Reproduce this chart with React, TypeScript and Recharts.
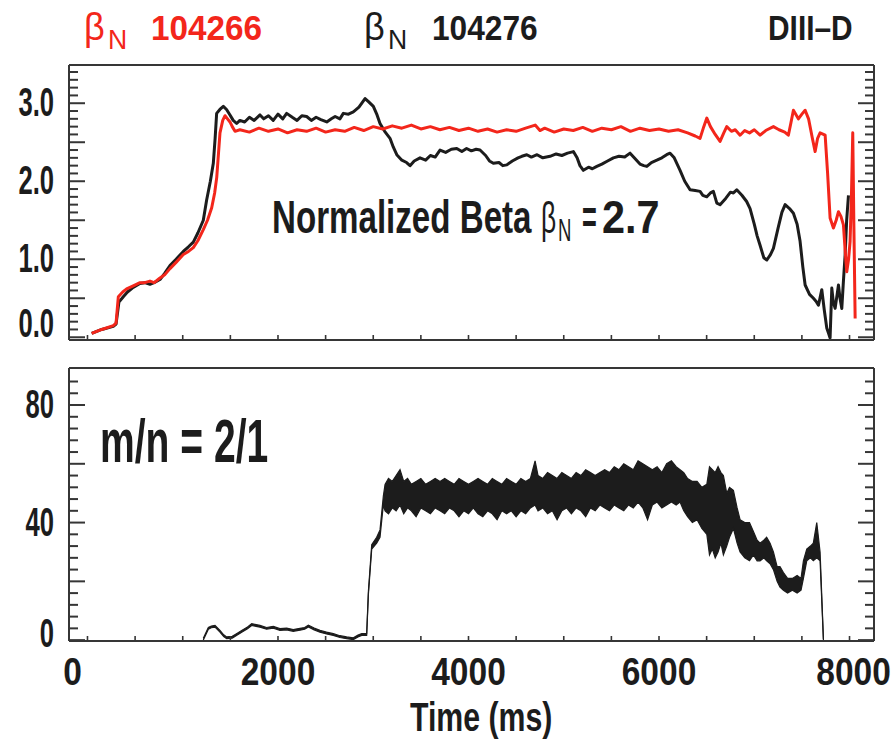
import React from 'react';
import { ComposedChart, Line, Area, XAxis, YAxis } from 'recharts';

// ---------- data ----------
// Normalized beta, shot 104266 (red): [time ms, betaN]
const beta104266: [number, number][] = [
  [44, 0.05], [150, 0.1], [271, 0.15], [300, 0.18], [324, 0.52], [370, 0.58], [411, 0.62], [480, 0.66],
  [551, 0.7], [600, 0.7], [656, 0.72], [700, 0.7], [761, 0.76], [810, 0.8], [866, 0.88], [930, 0.96],
  [1006, 1.06], [1060, 1.1], [1111, 1.15], [1160, 1.24], [1216, 1.38], [1260, 1.5], [1304, 1.66],
  [1335, 1.85], [1357, 2.05], [1375, 2.35], [1391, 2.62], [1420, 2.78], [1444, 2.84], [1470, 2.8],
  [1496, 2.76], [1520, 2.7], [1549, 2.64], [1600, 2.66], [1700, 2.63], [1800, 2.68], [1900, 2.64],
  [2000, 2.67], [2100, 2.62], [2200, 2.66], [2300, 2.64], [2400, 2.68], [2500, 2.63], [2600, 2.66],
  [2700, 2.64], [2800, 2.69], [2900, 2.65], [3000, 2.7], [3100, 2.67], [3200, 2.71], [3300, 2.68],
  [3400, 2.72], [3500, 2.67], [3600, 2.7], [3700, 2.66], [3800, 2.69], [3900, 2.65], [4000, 2.68],
  [4100, 2.64], [4200, 2.67], [4300, 2.63], [4400, 2.66], [4500, 2.64], [4600, 2.68], [4700, 2.72],
  [4750, 2.65], [4800, 2.68], [4900, 2.63], [5000, 2.67], [5100, 2.65], [5200, 2.69], [5300, 2.64],
  [5400, 2.68], [5500, 2.66], [5600, 2.7], [5700, 2.64], [5800, 2.68], [5900, 2.65], [6000, 2.67],
  [6100, 2.64], [6200, 2.66], [6300, 2.62], [6380, 2.58], [6431, 2.55], [6470, 2.7], [6502, 2.81],
  [6540, 2.7], [6590, 2.6], [6641, 2.51], [6680, 2.62], [6711, 2.7], [6760, 2.64], [6800, 2.66],
  [6851, 2.59], [6900, 2.65], [6950, 2.62], [7000, 2.66], [7061, 2.59], [7120, 2.65], [7201, 2.7],
  [7260, 2.66], [7320, 2.63], [7358, 2.59], [7385, 2.75], [7411, 2.91], [7440, 2.85], [7463, 2.8],
  [7500, 2.86], [7534, 2.91], [7570, 2.8], [7610, 2.55], [7639, 2.38], [7665, 2.55], [7691, 2.62],
  [7744, 2.59], [7770, 2.1], [7796, 1.53], [7831, 1.4], [7860, 1.5], [7884, 1.61], [7910, 1.55],
  [7936, 1.44], [7955, 1.1], [7971, 0.84], [7990, 1.0], [8006, 1.23], [8020, 1.8], [8034, 2.62],
  [8045, 1.5], [8059, 0.24],
];

// Normalized beta, shot 104276 (black): [time ms, betaN]
const beta104276: [number, number][] = [
  [44, 0.05], [150, 0.1], [271, 0.14], [300, 0.17], [330, 0.45], [376, 0.52], [420, 0.58], [480, 0.64],
  [551, 0.69], [600, 0.7], [656, 0.68], [700, 0.7], [761, 0.74], [810, 0.82], [866, 0.92], [930, 1.0],
  [1006, 1.1], [1060, 1.16], [1111, 1.22], [1160, 1.34], [1216, 1.5], [1251, 1.76], [1290, 2.0],
  [1321, 2.23], [1340, 2.55], [1356, 2.87], [1390, 2.92], [1426, 2.96], [1460, 2.92], [1496, 2.85],
  [1530, 2.78], [1566, 2.74], [1600, 2.78], [1650, 2.76], [1700, 2.82], [1750, 2.78], [1811, 2.85],
  [1850, 2.8], [1900, 2.84], [1950, 2.78], [2000, 2.86], [2050, 2.8], [2091, 2.87], [2150, 2.82],
  [2200, 2.78], [2250, 2.84], [2301, 2.83], [2350, 2.78], [2400, 2.82], [2450, 2.79], [2512, 2.76],
  [2560, 2.8], [2600, 2.83], [2650, 2.8], [2686, 2.87], [2740, 2.86], [2791, 2.89], [2850, 2.95],
  [2914, 3.06], [2950, 3.02], [3001, 2.96], [3040, 2.85], [3071, 2.74], [3120, 2.64], [3176, 2.55],
  [3210, 2.44], [3247, 2.34], [3300, 2.27], [3350, 2.24], [3386, 2.2], [3430, 2.26], [3491, 2.3],
  [3550, 2.27], [3600, 2.33], [3650, 2.31], [3701, 2.4], [3760, 2.37], [3820, 2.41], [3877, 2.42],
  [3930, 2.38], [3980, 2.42], [4030, 2.39], [4080, 2.41], [4121, 2.4], [4180, 2.33], [4220, 2.26],
  [4261, 2.23], [4320, 2.24], [4360, 2.2], [4402, 2.21], [4460, 2.26], [4520, 2.3], [4560, 2.32],
  [4612, 2.34], [4660, 2.31], [4720, 2.34], [4780, 2.3], [4856, 2.32], [4920, 2.35], [4980, 2.33],
  [5040, 2.36], [5101, 2.38], [5140, 2.3], [5170, 2.2], [5206, 2.14], [5260, 2.18], [5300, 2.16],
  [5347, 2.19], [5400, 2.22], [5460, 2.26], [5521, 2.3], [5580, 2.32], [5640, 2.31], [5696, 2.36],
  [5740, 2.3], [5800, 2.22], [5840, 2.2], [5872, 2.19], [5920, 2.24], [5977, 2.27], [6030, 2.3],
  [6080, 2.34], [6116, 2.36], [6160, 2.3], [6221, 2.14], [6270, 2.0], [6326, 1.89], [6380, 1.88],
  [6431, 1.87], [6460, 1.82], [6502, 1.8], [6540, 1.85], [6571, 1.87], [6607, 1.72], [6641, 1.7],
  [6700, 1.78], [6750, 1.86], [6781, 1.85], [6816, 1.89], [6870, 1.82], [6920, 1.74], [6956, 1.65],
  [7000, 1.45], [7030, 1.3], [7061, 1.18], [7100, 1.02], [7132, 0.99], [7170, 1.06], [7201, 1.14],
  [7250, 1.4], [7290, 1.6], [7324, 1.7], [7370, 1.65], [7411, 1.59], [7450, 1.45], [7481, 1.23],
  [7510, 0.9], [7534, 0.67], [7580, 0.55], [7621, 0.5], [7650, 0.46], [7674, 0.41], [7709, 0.61],
  [7735, 0.35], [7761, 0.12], [7780, 0.05], [7796, -0.01], [7814, 0.63], [7830, 0.45], [7849, 0.37],
  [7870, 0.55], [7884, 0.67], [7900, 0.5], [7919, 0.37], [7935, 0.7], [7954, 1.06], [7970, 1.5],
  [7989, 1.82],
];

// m/n = 2/1 mode amplitude envelope: [time ms, low, high]
const mode21: [number, number, number][] = [
  [1216, 0, 0.6], [1269, 3.7, 4.3], [1300, 4.2, 4.8], [1339, 4.4, 5.0], [1391, 2.7, 3.3], [1430, 1.2, 1.8],
  [1461, 0.5, 1.1], [1520, 0.7, 1.3], [1560, 1.5, 2.1], [1619, 2.7, 3.3], [1680, 3.9, 4.5], [1724, 5.0, 5.6],
  [1770, 4.7, 5.3], [1811, 4.4, 5.0], [1880, 3.7, 4.3], [1951, 4.1, 4.7], [2020, 3.3, 3.9], [2091, 3.5, 4.1],
  [2160, 3.0, 3.6], [2231, 3.4, 4.0], [2280, 3.7, 4.3], [2319, 4.5, 5.1], [2380, 3.5, 4.1], [2441, 2.7, 3.3],
  [2510, 2.1, 2.7], [2581, 1.6, 2.2], [2650, 0.9, 1.5], [2721, 0.5, 1.1], [2791, 0.2, 0.8], [2840, 1.1, 1.7],
  [2879, 1.6, 2.2], [2931, 1.6, 2.2], [2949, 15.5, 16.5], [2984, 31, 32.5], [3036, 33, 35], [3071, 35, 37.5],
  [3106, 46, 49], [3124, 44, 53], [3160, 43, 55], [3200, 45, 54], [3240, 44, 56], [3281, 46, 58],
  [3320, 43, 54], [3360, 45, 55], [3400, 44, 53], [3450, 42, 54], [3500, 45, 55], [3550, 44, 53],
  [3600, 43, 54], [3650, 45, 55], [3701, 44, 54], [3750, 43, 55], [3800, 45, 54], [3850, 44, 53],
  [3900, 42, 55], [3950, 44, 54], [4000, 43, 53], [4050, 45, 54], [4100, 43, 55], [4150, 42, 54],
  [4200, 44, 53], [4250, 43, 55], [4300, 41, 54], [4350, 44, 53], [4400, 43, 55], [4450, 44, 54],
  [4500, 42, 53], [4550, 44, 55], [4600, 43, 54], [4650, 45, 55], [4699, 46, 61], [4730, 44, 56],
  [4780, 45, 55], [4830, 43, 57], [4880, 44, 56], [4930, 41, 55], [4980, 44, 57], [5030, 45, 56],
  [5080, 43, 55], [5130, 45, 57], [5180, 44, 56], [5230, 42, 58], [5280, 45, 57], [5330, 44, 56],
  [5380, 46, 57], [5430, 45, 58], [5480, 44, 57], [5530, 46, 59], [5580, 45, 58], [5630, 44, 60],
  [5680, 46, 59], [5730, 45, 58], [5780, 47, 61], [5830, 45, 60], [5880, 41, 59], [5930, 46, 58],
  [5980, 47, 59], [6030, 45, 57], [6080, 46, 60], [6130, 47, 61], [6180, 46, 59], [6221, 47, 58],
  [6260, 44, 57], [6300, 42, 55], [6350, 40, 54], [6400, 41, 54], [6450, 38, 52], [6502, 36, 53],
  [6530, 29, 59], [6560, 31, 58], [6590, 28, 57], [6620, 30, 59], [6650, 33, 57], [6676, 29, 56],
  [6711, 32, 50], [6740, 35, 52], [6781, 38, 51], [6820, 33, 45], [6851, 30, 41], [6900, 28, 40],
  [6950, 27, 40], [6991, 29, 37], [7030, 27, 34], [7061, 27, 33], [7100, 28, 34], [7130, 27, 35],
  [7166, 26, 33], [7201, 24, 30], [7240, 20, 25], [7270, 18, 25], [7306, 17, 23], [7350, 16, 21],
  [7400, 17, 21], [7450, 16, 22], [7491, 17, 21], [7516, 21, 27], [7551, 27, 31], [7590, 28, 32],
  [7620, 27, 33], [7656, 28, 40], [7691, 27, 30], [7726, 0, 0.4],
];

// ---------- axes ----------
const timeDomain: [number, number] = [-194, 8257];
const timeTicks = [0, 500, 1000, 1500, 2000, 2500, 3000, 3500, 4000, 4500, 5000, 5500, 6000, 6500, 7000, 7500, 8000];
const timeLabels = [0, 2000, 4000, 6000, 8000];
const betaDomain: [number, number] = [-0.035, 3.49];
const betaTicks = Array.from({ length: 35 }, (_, i) => i / 10);
const betaLabels = [0, 1, 2, 3];
const ampDomain: [number, number] = [-0.3, 92.6];
const ampTicks = Array.from({ length: 23 }, (_, i) => i * 4);
const ampLabels = [0, 40, 80];

const RED = '#f3261b';
const INK = '#1c1c1c';
const AXIS = '#363636';
const FONT = '"Liberation Sans", Arial, Helvetica, sans-serif';

const redData = beta104266.map(([t, v]) => ({ t, v }));
const blackData = beta104276.map(([t, v]) => ({ t, v }));
const modeData = mode21.map(([t, lo, hi]) => ({ t, r: [lo, hi] }));

const near = (a: number, b: number) => Math.abs(a - b) < 1e-6;

// ---------- tick renderers (inward ticks) ----------
const makeYTick = (side: 'left' | 'right', isMajor: (v: number) => boolean, labels: number[] | null, fmt: (v: number) => string, zeroDy: number) =>
  (props: any) => {
    const { x, y, payload } = props;
    const v = payload.value as number;
    const len = isMajor(v) ? 16 : 9;
    const dir = side === 'left' ? 1 : -1;
    const showLabel = labels && labels.some((l) => near(l, v));
    return (
      <g>
        <line x1={x} x2={x + dir * len} y1={y} y2={y} stroke={AXIS} strokeWidth={2} />
        {showLabel && (
          <text
            transform={`translate(${x - 15},${y + (near(v, 0) ? zeroDy : 13)}) scale(0.64,1)`}
            textAnchor="end"
            fontSize={40}
            fontWeight="bold"
            fontFamily={FONT}
            fill={INK}
          >
            {fmt(v)}
          </text>
        )}
      </g>
    );
  };

const makeXTick = (side: 'top' | 'bottom', withLabels: boolean) => (props: any) => {
  const { x, y, payload } = props;
  const v = payload.value as number;
  const dir = side === 'top' ? 1 : -1;
  const showLabel = withLabels && timeLabels.includes(v);
  const shift = v === 0 ? -15 : v === 8000 ? 4 : 0;
  return (
    <g>
      <line x1={x} x2={x} y1={y} y2={y + dir * 5} stroke={AXIS} strokeWidth={1.6} />
      {showLabel && (
        <text
          transform={`translate(${x + shift},${y + 44}) scale(0.86,1)`}
          textAnchor="middle"
          fontSize={39}
          fontWeight="bold"
          fontFamily={FONT}
          fill={INK}
        >
          {String(v)}
        </text>
      )}
    </g>
  );
};

const betaMajor = (v: number) => near(v * 2, Math.round(v * 2));
const ampMajor = (v: number) => v % 20 === 0;

const axisLine = { stroke: AXIS, strokeWidth: 2 };

// condensed text: horizontal scale sx applied through a transform
const S = ({ x, y, size, sx, weight = 'bold', fill = INK, children }: any) => (
  <text
    transform={`translate(${x},${y}) scale(${sx},1)`}
    fontSize={size}
    fontWeight={weight}
    fill={fill}
    fontFamily={FONT}
  >
    {children}
  </text>
);

export default function App() {
  return (
    <div style={{ position: 'absolute', left: 0, top: 0, width: 892, height: 754, background: '#fff', overflow: 'hidden' }}>
      {/* top panel: normalized beta */}
      <div style={{ position: 'absolute', left: 0, top: 0 }}>
        <ComposedChart width={892} height={360} margin={{ top: 55, left: 49, right: 8, bottom: 10 }}>
          <XAxis xAxisId="b" dataKey="t" type="number" domain={timeDomain} allowDataOverflow ticks={timeTicks} interval={0}
            orientation="bottom" height={10} tickSize={0} tickMargin={0} tickLine={false} axisLine={axisLine} tick={makeXTick('bottom', false)} />
          <XAxis xAxisId="t" type="number" domain={timeDomain} allowDataOverflow ticks={timeTicks} interval={0}
            orientation="top" height={10} tickSize={0} tickMargin={0} tickLine={false} axisLine={axisLine} tick={makeXTick('top', false)} />
          <YAxis yAxisId="l" type="number" domain={betaDomain} allowDataOverflow ticks={betaTicks} interval={0}
            orientation="left" width={20} tickSize={0} tickMargin={0} tickLine={false} axisLine={axisLine}
            tick={makeYTick('left', betaMajor, betaLabels, (v) => v.toFixed(1), 0)} />
          <YAxis yAxisId="r" type="number" domain={betaDomain} allowDataOverflow ticks={betaTicks} interval={0}
            orientation="right" width={10} tickSize={0} tickMargin={0} tickLine={false} axisLine={axisLine}
            tick={makeYTick('right', betaMajor, null, (v) => '', 0)} />
          <Line xAxisId="b" yAxisId="l" data={blackData} dataKey="v" type="linear" stroke={INK} strokeWidth={3}
            dot={false} isAnimationActive={false} strokeLinejoin="round" />
          <Line xAxisId="b" yAxisId="l" data={redData} dataKey="v" type="linear" stroke={RED} strokeWidth={3}
            dot={false} isAnimationActive={false} strokeLinejoin="round" />
        </ComposedChart>
      </div>

      {/* bottom panel: m/n = 2/1 amplitude */}
      <div style={{ position: 'absolute', left: 0, top: 340 }}>
        <ComposedChart width={892} height={414} data={modeData} margin={{ top: 18, left: 49, right: 8, bottom: 103 }}>
          <XAxis xAxisId="b" dataKey="t" type="number" domain={timeDomain} allowDataOverflow ticks={timeTicks} interval={0}
            orientation="bottom" height={10} tickSize={0} tickMargin={0} tickLine={false} axisLine={axisLine} tick={makeXTick('bottom', true)} />
          <XAxis xAxisId="t" type="number" domain={timeDomain} allowDataOverflow ticks={timeTicks} interval={0}
            orientation="top" height={10} tickSize={0} tickMargin={0} tickLine={false} axisLine={axisLine} tick={makeXTick('top', false)} />
          <YAxis yAxisId="l" type="number" domain={ampDomain} allowDataOverflow ticks={ampTicks} interval={0}
            orientation="left" width={20} tickSize={0} tickMargin={0} tickLine={false} axisLine={axisLine}
            tick={makeYTick('left', ampMajor, ampLabels, (v) => String(v), 7)} />
          <YAxis yAxisId="r" type="number" domain={ampDomain} allowDataOverflow ticks={ampTicks} interval={0}
            orientation="right" width={10} tickSize={0} tickMargin={0} tickLine={false} axisLine={axisLine}
            tick={makeYTick('right', ampMajor, null, (v) => '', 0)} />
          <Area xAxisId="b" yAxisId="l" dataKey="r" type="linear" stroke={INK} strokeWidth={1.2} fill={INK} fillOpacity={1}
            dot={false} activeDot={false} isAnimationActive={false} />
        </ComposedChart>
      </div>

      {/* texts */}
      <svg width={892} height={754} style={{ position: 'absolute', left: 0, top: 0, pointerEvents: 'none' }}>
        <S x={84} y={40} size={38} sx={0.95} weight="normal" fill={RED}>β</S>
        <S x={108} y={49} size={28} sx={0.95} weight="normal" fill={RED}>N</S>
        <S x={151} y={40} size={36} sx={0.925} fill={RED}>104266</S>
        <S x={364} y={40} size={38} sx={0.95} weight="normal">β</S>
        <S x={388} y={49} size={28} sx={0.95} weight="normal">N</S>
        <S x={432} y={40} size={36} sx={0.88}>104276</S>
        <S x={768} y={40} size={36} sx={0.83}>DIII–D</S>

        <S x={272} y={233} size={46} sx={0.72}>Normalized Beta</S>
        <S x={541} y={233} size={44} sx={0.6} weight="normal">β</S>
        <S x={558} y={241} size={32} sx={0.58} weight="normal">N</S>
        <S x={582} y={233} size={46} sx={0.55}>=</S>
        <S x={602} y={233} size={46} sx={0.9}>2.7</S>

        <S x={100} y={462} size={62} sx={0.63}>m/n = 2/1</S>

        <S x={410} y={731} size={40} sx={0.757}>Time (ms)</S>
      </svg>
    </div>
  );
}
